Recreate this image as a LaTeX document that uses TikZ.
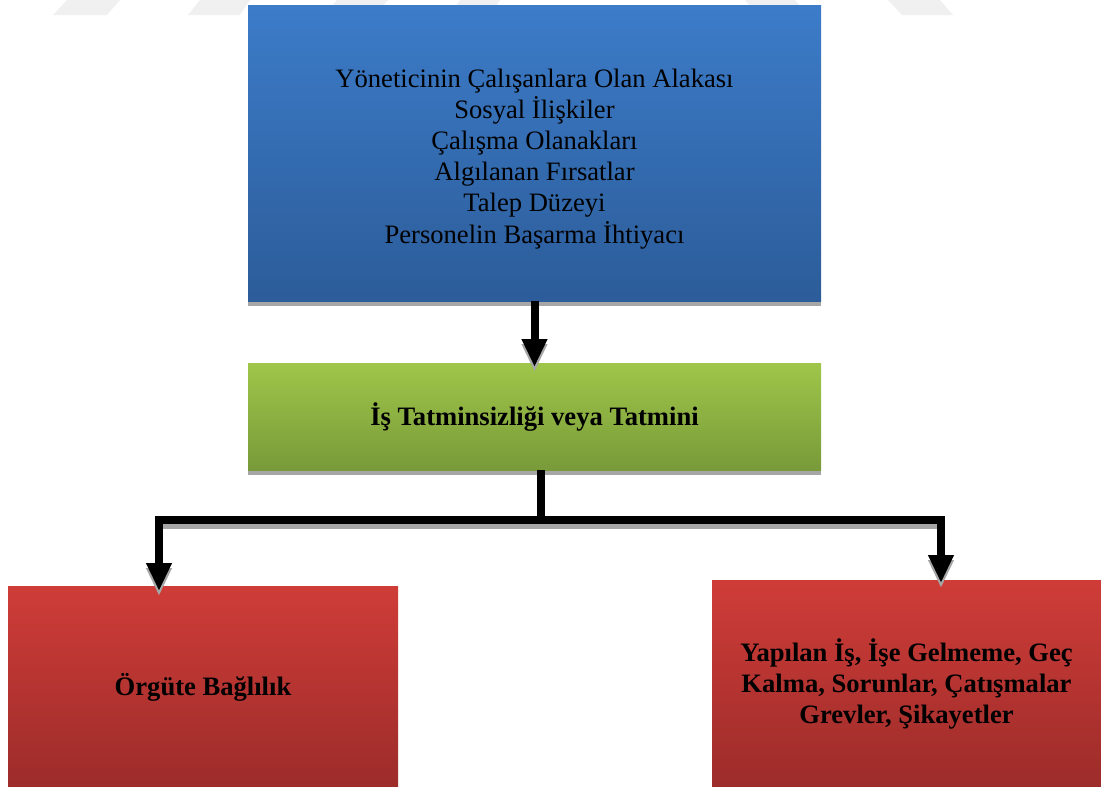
\documentclass[tikz,border=0pt]{standalone}
\usepackage{fontspec}
\setmainfont{Liberation Serif}
\usetikzlibrary{arrows.meta,calc,backgrounds}
\definecolor{blueT}{HTML}{3C7CC9}
\definecolor{blueB}{HTML}{2C5C99}
\definecolor{greenT}{HTML}{9FC64A}
\definecolor{greenB}{HTML}{799A39}
\definecolor{redT}{HTML}{CF3C38}
\definecolor{redB}{HTML}{9C2C2A}
\definecolor{shadowgray}{HTML}{A6A6A6}
\definecolor{wm}{HTML}{F0F0F0}
\begin{document}
\begin{tikzpicture}[x=1pt,y=-1pt,
  box/.style={rectangle, inner sep=0pt, outer sep=0pt, align=center, text=black,
    font=\fontsize{26.6}{31.2}\selectfont},
  bluebox/.style={box, top color=blueT, bottom color=blueB},
  greenbox/.style={box, top color=greenT, bottom color=greenB, font=\fontsize{26.6}{31}\selectfont\bfseries},
  redbox/.style={box, top color=redT, bottom color=redB, font=\fontsize{26.6}{31}\selectfont\bfseries},
  conn/.style={line width=8pt, line join=miter, -{Triangle[width=24pt,length=28pt]}},
  conntwo/.style={line width=8pt, line join=miter, {Triangle[width=24pt,length=28pt]}-{Triangle[width=24pt,length=28pt]}},
  stem/.style={line width=8pt},
  shade/.style={draw=shadowgray, transform canvas={yshift=-5pt}}
]
\useasboundingbox (0,0) rectangle (1101,787);
% faint watermark
\fill[wm] (53,15) -- (107,15) -- (120,0) -- (67,0) -- cycle;
\fill[wm] (188,15) -- (240,15) -- (250,0) -- (200,0) -- cycle;
\fill[wm] (325,15) -- (375,15) -- (388,0) -- (337,0) -- cycle;
\fill[wm] (450,15) -- (490,15) -- (500,0) -- (460,0) -- cycle;
\fill[wm] (758,15) -- (808,15) -- (795,0) -- (745,0) -- cycle;
\fill[wm] (902,15) -- (953,15) -- (940,0) -- (888,0) -- cycle;

\node[bluebox, minimum width=573pt, minimum height=296pt] (b) at (534.5,153)
  {\rule{0pt}{30pt}Yöneticinin Çalışanlara Olan Alakası\\Sosyal İlişkiler\\Çalışma Olanakları\\Algılanan Fırsatlar\\Talep Düzeyi\\Personelin Başarma İhtiyacı};
\node[greenbox, minimum width=573pt, minimum height=107pt] (g) at (534.5,416.5)
  {\rule{0pt}{24pt}İş Tatminsizliği veya Tatmini};
\node[redbox, minimum width=390pt, minimum height=201pt] (l) at (203,686.5)
  {\rule{0pt}{24pt}Örgüte Bağlılık};
\node[redbox, minimum width=389pt, minimum height=207pt] (r) at (906.5,683.5)
  {Yapılan İş, İşe Gelmeme, Geç\\Kalma, Sorunlar, Çatışmalar\\Grevler, Şikayetler};

\begin{scope}[on background layer]
  \fill[shadowgray] ([yshift=-5pt]b.south west) rectangle ([yshift=-5pt]b.north east);
  \fill[shadowgray] ([yshift=-5pt]g.south west) rectangle ([yshift=-5pt]g.north east);
\end{scope}

\coordinate (jc) at (541,520);
\coordinate (jl) at (159,520);
\coordinate (jr) at (941,520);

% shadows of connectors
\draw[conn, shade] (b.south) -- ([yshift=-4pt]g.north);
\draw[conntwo, shade] ($(jl |- l.north)+(0,5)$) -- (jl) -- (jr) -- ($(jr |- r.north)+(0,3)$);
% connectors
\draw[conn] (b.south) -- ([yshift=-4pt]g.north);
\draw[stem] ([xshift=6.5pt]g.south) -- (jc);
\draw[conntwo] ($(jl |- l.north)+(0,5)$) -- (jl) -- (jr) -- ($(jr |- r.north)+(0,3)$);
\end{tikzpicture}
\end{document}
